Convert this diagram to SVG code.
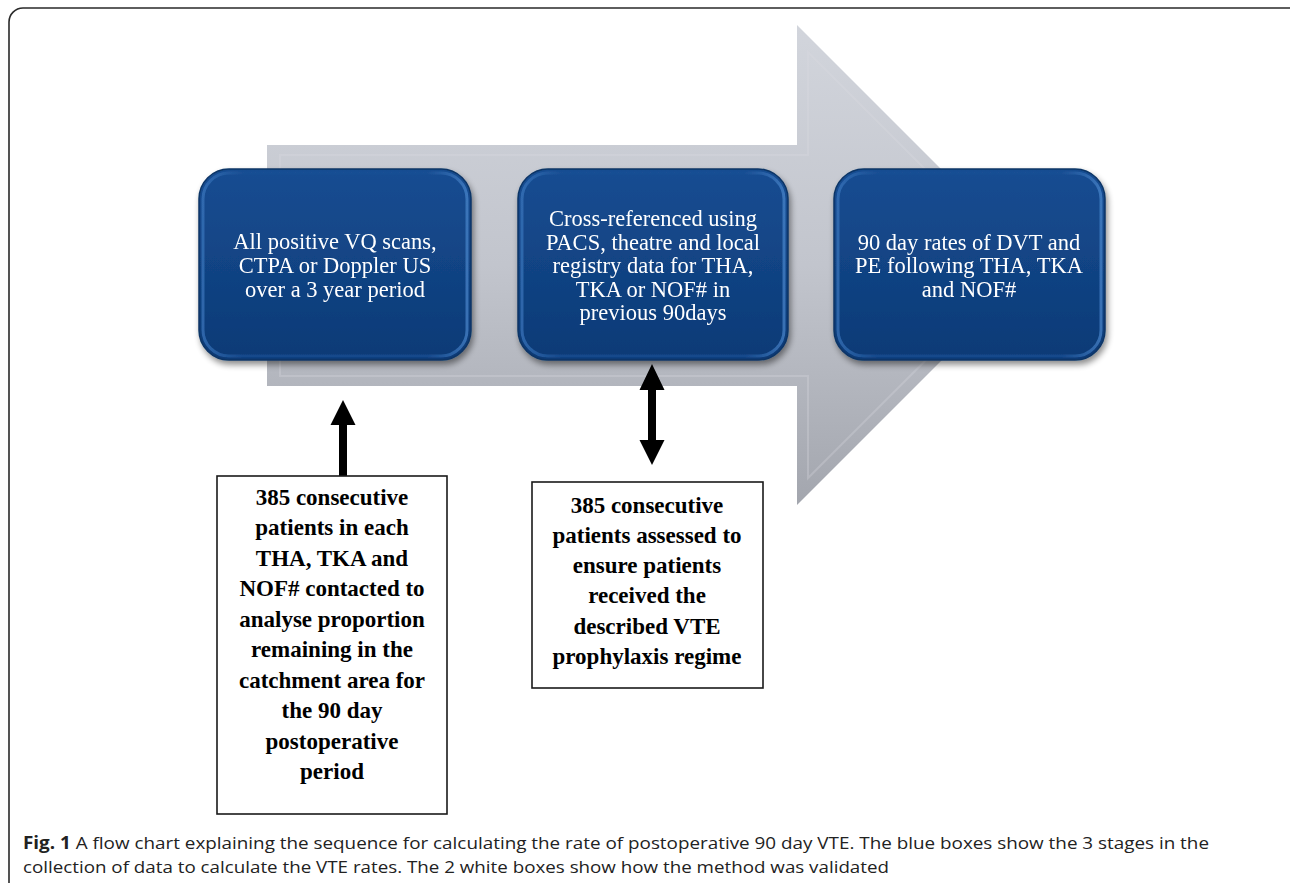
<svg xmlns="http://www.w3.org/2000/svg" width="1290" height="883" viewBox="0 0 1290 883">
<defs>
<style>
.bt{font-family:"Liberation Serif","Times New Roman",serif;font-size:22.5px;fill:#ffffff;text-anchor:middle}
.wt{font-family:"Liberation Serif","Times New Roman",serif;font-size:23px;font-weight:bold;fill:#000000;text-anchor:middle}
.cap{font-family:"Open Sans","Noto Sans",sans-serif;font-size:17px;fill:#222222}
.wbox{fill:#ffffff;stroke:#1a1a1a;stroke-width:1.6}
.blue{fill:url(#gBlue);stroke:#0b3566;stroke-width:1.5}
.bevel{fill:none;stroke:url(#gEdge);stroke-width:3;opacity:0.7}
.arrowline{fill:#000000}
</style>
<linearGradient id="gArrow" x1="0" y1="0" x2="0" y2="1">
<stop offset="0" stop-color="#d2d5dc"/>
<stop offset="0.5" stop-color="#c2c5cd"/>
<stop offset="1" stop-color="#a3a6ae"/>
</linearGradient>
<linearGradient id="gBlue" x1="0" y1="0" x2="0" y2="1">
<stop offset="0" stop-color="#174d92"/>
<stop offset="1" stop-color="#0c3a76"/>
</linearGradient>
<linearGradient id="gEdge" x1="0" y1="0" x2="1" y2="0">
<stop offset="0" stop-color="#3b76bd"/>
<stop offset="0.15" stop-color="#1a4f94"/>
<stop offset="0.85" stop-color="#1a4f94"/>
<stop offset="1" stop-color="#4a86cc"/>
</linearGradient>
<filter id="shadow" x="-10%" y="-10%" width="125%" height="130%">
<feGaussianBlur in="SourceAlpha" stdDeviation="3"/>
<feOffset dx="2" dy="4" result="o"/>
<feComponentTransfer><feFuncA type="linear" slope="0.45"/></feComponentTransfer>
<feMerge><feMergeNode/><feMergeNode in="SourceGraphic"/></feMerge>
</filter>
</defs>

<rect x="9" y="8" width="1300" height="900" rx="14" ry="14" fill="#ffffff" stroke="#2a2a2a" stroke-width="1.6"/>

<g id="bigArrow">
<polygon points="267,145 797,145 797,25 1037,265 797,505 797,386 267,386" fill="url(#gArrow)"/>
<polygon points="280,155 808,155 808,52 1021,265 808,478 808,376 280,376" fill="none" stroke="#d9dce2" stroke-width="2" opacity="0.3"/>
</g>

<g id="box1" filter="url(#shadow)">
<rect class="blue" x="199" y="169" width="272" height="191" rx="30" ry="30"/>
<rect class="bevel" x="203" y="173" width="264" height="183" rx="26" ry="26"/>
<text class="bt" x="335" y="249">All positive VQ scans,</text>
<text class="bt" x="335" y="273">CTPA or Doppler US</text>
<text class="bt" x="335" y="297">over a 3 year period</text>
</g>

<g id="box2" filter="url(#shadow)">
<rect class="blue" x="518" y="169" width="270" height="191" rx="30" ry="30"/>
<rect class="bevel" x="522" y="173" width="262" height="183" rx="26" ry="26"/>
<text class="bt" x="653" y="226">Cross-referenced using</text>
<text class="bt" x="653" y="250">PACS, theatre and local</text>
<text class="bt" x="653" y="273">registry data for THA,</text>
<text class="bt" x="653" y="297">TKA or NOF# in</text>
<text class="bt" x="653" y="320">previous 90days</text>
</g>

<g id="box3" filter="url(#shadow)">
<rect class="blue" x="834" y="169" width="271" height="191" rx="30" ry="30"/>
<rect class="bevel" x="838" y="173" width="263" height="183" rx="26" ry="26"/>
<text class="bt" x="969" y="250">90 day rates of DVT and</text>
<text class="bt" x="969" y="273">PE following THA, TKA</text>
<text class="bt" x="969" y="297">and NOF#</text>
</g>

<g id="connectors">
<polygon class="arrowline" points="343,400 355.5,425 347,425 347,476 339,476 339,425 330.5,425"/>
<polygon class="arrowline" points="652,364 664.5,390 656,390 656,440 664.5,440 652,465 639.5,440 648,440 648,390 639.5,390"/>
</g>

<g id="whiteBox1">
<rect class="wbox" x="217" y="476" width="230" height="338"/>
<text class="wt" x="332" y="505">385 consecutive</text>
<text class="wt" x="332" y="535">patients in each</text>
<text class="wt" x="332" y="566">THA, TKA and</text>
<text class="wt" x="332" y="596">NOF# contacted to</text>
<text class="wt" x="332" y="627">analyse proportion</text>
<text class="wt" x="332" y="657">remaining in the</text>
<text class="wt" x="332" y="688">catchment area for</text>
<text class="wt" x="332" y="718">the 90 day</text>
<text class="wt" x="332" y="749">postoperative</text>
<text class="wt" x="332" y="779">period</text>
</g>

<g id="whiteBox2">
<rect class="wbox" x="532" y="482" width="231" height="206"/>
<text class="wt" x="647" y="513">385 consecutive</text>
<text class="wt" x="647" y="543">patients assessed to</text>
<text class="wt" x="647" y="573">ensure patients</text>
<text class="wt" x="647" y="603">received the</text>
<text class="wt" x="647" y="634">described VTE</text>
<text class="wt" x="647" y="664">prophylaxis regime</text>
</g>

<g id="caption">
<text class="cap" x="23" y="849" textLength="1186" lengthAdjust="spacingAndGlyphs"><tspan font-weight="bold">Fig. 1</tspan> A flow chart explaining the sequence for calculating the rate of postoperative 90 day VTE. The blue boxes show the 3 stages in the</text>
<text class="cap" x="23" y="873" textLength="866" lengthAdjust="spacingAndGlyphs">collection of data to calculate the VTE rates. The 2 white boxes show how the method was validated</text>
</g>
</svg>
